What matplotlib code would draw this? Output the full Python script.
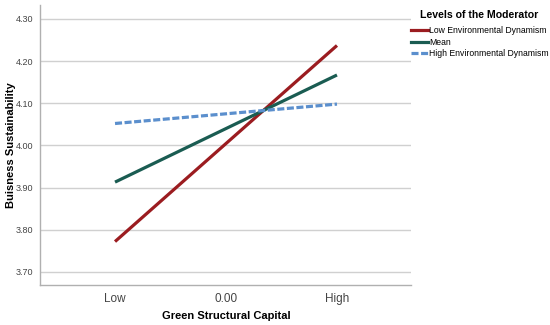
import matplotlib
matplotlib.use("Agg")
import matplotlib.pyplot as plt
from matplotlib.lines import Line2D

plt.rcParams['font.family'] = ['Liberation Sans', 'DejaVu Sans']

x_labels = ["Low", "0.00", "High"]
x_pos = [-1, 0, 1]
series_names = ["Low Environmental Dynamism", "Mean", "High Environmental Dynamism"]
low_dyn = [3.772, 4.237]
mean_dyn = [3.913, 4.167]
high_dyn = [4.052, 4.098]
y_ticks = [3.70, 3.80, 3.90, 4.00, 4.10, 4.20, 4.30]

colors = ["#9b1c20", "#1a5c52", "#5b8fcd"]
styles = ["-", "-", (0, (2.2, 0.8))]

fig = plt.figure(figsize=(5.5, 3.25), dpi=100)
ax = fig.add_axes([40/550, 40/325, 371/550, 280/325])

for vals, c, ls, name in zip([low_dyn, mean_dyn, high_dyn], colors, styles, series_names):
    ax.plot([x_pos[0], x_pos[-1]], vals, color=c, lw=2.3, linestyle=ls, label=name,
            solid_capstyle='butt', dash_capstyle='butt')

ax.set_xlim(-1.676, 1.667)
ax.set_ylim(3.669, 4.333)
ax.set_yticks(y_ticks)
ax.set_yticklabels([f"{v:.2f}" for v in y_ticks], fontsize=6.5, color="#444444")
ax.set_xticks(x_pos)
ax.set_xticklabels(x_labels, fontsize=8.5, color="#444444")
ax.tick_params(axis='y', length=0, pad=5)
ax.tick_params(axis='x', length=0, pad=6)
ax.grid(axis='y', color="#d0d0d0", lw=1)
ax.set_axisbelow(True)
for s in ['top', 'right']:
    ax.spines[s].set_visible(False)
for s in ['left', 'bottom']:
    ax.spines[s].set_color("#b0b0b0")
    ax.spines[s].set_linewidth(1)

ax.set_xlabel("Green Structural Capital", fontsize=8, fontweight='bold')
ax.xaxis.set_label_coords((226 - 40) / 371, (285 - 316) / 280)
ax.xaxis.label.set_va('center')
ax.set_ylabel("Buisness Sustainability", fontsize=8, fontweight='bold')
ax.yaxis.set_label_coords((11 - 40) / 371, 0.5)
ax.yaxis.label.set_va('center')

fig.text(420/550, 1 - 15/325, "Levels of the Moderator", fontsize=7.6, fontweight='bold',
         ha='left', va='center')
handles = [Line2D([0], [0], color=c, lw=2.3, linestyle=ls) for c, ls in zip(colors, styles)]
leg = fig.legend(handles, series_names, loc='upper left', bbox_to_anchor=(411/550, 1 - 26/325),
                 frameon=False, fontsize=6.2,
                 handlelength=2.0, handletextpad=0.1, labelspacing=0.3, borderaxespad=0,
                 borderpad=0.0)

fig.savefig("out.png", dpi=100)
